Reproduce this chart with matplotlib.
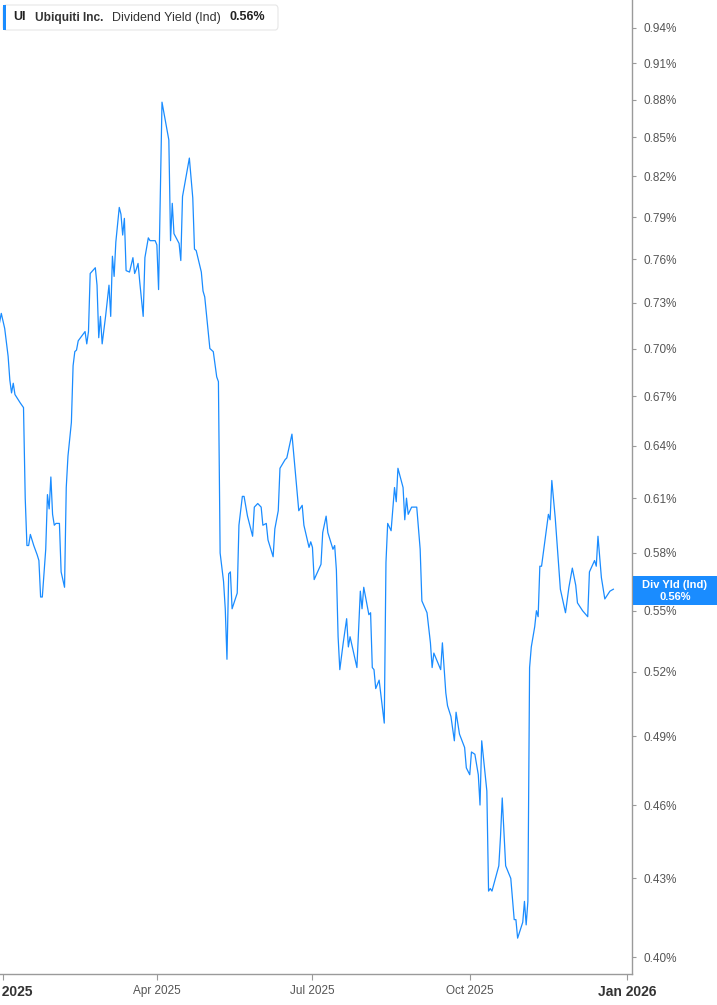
"""Dividend yield chart for Ubiquiti (UI), 2025."""

import matplotlib

matplotlib.use("Agg")
import matplotlib.pyplot as plt
import matplotlib.dates as mdates
import pandas as pd
from matplotlib.patches import FancyBboxPatch, Rectangle
from matplotlib.ticker import FixedLocator, NullLocator

plt.rcParams["font.family"] = ["Liberation Sans", "DejaVu Sans"]

# days after 2025-01-01 and dividend yield (%)
day_offsets = [
    -2, -1, 1, 3, 4, 5, 6, 7, 10, 12, 13, 14, 15, 16, 18, 20, 21, 22, 23, 25,
    26, 27, 28, 29, 30, 31, 33, 34, 35, 36, 37, 38, 40, 41, 42, 43, 44, 48, 49, 50,
    51, 54, 55, 56, 57, 58, 60, 62, 63, 64, 65, 66, 68, 69, 70, 71, 72, 74, 76, 77,
    78, 79, 80, 82, 83, 85, 86, 89, 90, 91, 93, 97, 98, 99, 100, 103, 104, 105, 109, 111,
    112, 113, 116, 117, 118, 121, 123, 125, 126, 127, 129, 130, 131, 132, 133, 134, 137, 138, 140, 141,
    143, 146, 147, 149, 151, 152, 154, 155, 158, 159, 161, 162, 165, 166, 169, 173, 175, 176, 179, 180,
    181, 182, 186, 187, 189, 190, 193, 194, 195, 196, 197, 199, 201, 202, 203, 207, 209, 210, 211, 214,
    215, 216, 217, 218, 220, 223, 224, 225, 227, 229, 230, 231, 234, 235, 236, 237, 239, 242, 244, 245,
    248, 250, 251, 252, 256, 257, 259, 260, 262, 264, 265, 267, 270, 271, 273, 274, 276, 278, 279, 280,
    283, 284, 285, 286, 290, 291, 292, 294, 297, 299, 300, 301, 304, 305, 306, 307, 308, 309, 311, 312,
    313, 314, 315, 317, 319, 320, 321, 323, 326, 329, 331, 333, 335, 336, 339, 340, 342, 343, 346, 347,
    348, 350, 352, 355, 357,
]
yield_pct = [
    0.717, 0.723, 0.713, 0.695, 0.680, 0.672, 0.678, 0.671, 0.666, 0.663,
    0.610, 0.584, 0.584, 0.590, 0.584, 0.579, 0.576, 0.557, 0.557, 0.582,
    0.612, 0.604, 0.622, 0.601, 0.595, 0.596, 0.596, 0.570, 0.566, 0.562,
    0.616, 0.634, 0.654, 0.689, 0.698, 0.699, 0.705, 0.711, 0.703, 0.711,
    0.750, 0.754, 0.742, 0.707, 0.721, 0.703, 0.721, 0.742, 0.721, 0.762,
    0.748, 0.772, 0.797, 0.792, 0.777, 0.789, 0.752, 0.751, 0.761, 0.750,
    0.753, 0.757, 0.744, 0.721, 0.761, 0.775, 0.773, 0.773, 0.770, 0.739,
    0.878, 0.848, 0.773, 0.800, 0.778, 0.771, 0.759, 0.805, 0.834, 0.804,
    0.767, 0.766, 0.751, 0.738, 0.734, 0.700, 0.698, 0.682, 0.679, 0.580,
    0.565, 0.551, 0.526, 0.569, 0.570, 0.551, 0.559, 0.595, 0.611, 0.611,
    0.600, 0.589, 0.605, 0.607, 0.605, 0.595, 0.596, 0.587, 0.578, 0.593,
    0.603, 0.627, 0.632, 0.633, 0.647, 0.603, 0.606, 0.595, 0.583, 0.586,
    0.583, 0.566, 0.574, 0.591, 0.600, 0.591, 0.582, 0.584, 0.571, 0.537,
    0.521, 0.534, 0.546, 0.532, 0.537, 0.522, 0.560, 0.551, 0.562, 0.548,
    0.549, 0.522, 0.521, 0.512, 0.516, 0.496, 0.575, 0.596, 0.592, 0.616,
    0.608, 0.627, 0.616, 0.598, 0.610, 0.601, 0.605, 0.605, 0.582, 0.555,
    0.549, 0.534, 0.522, 0.529, 0.521, 0.534, 0.510, 0.504, 0.499, 0.488,
    0.501, 0.491, 0.485, 0.476, 0.473, 0.483, 0.482, 0.473, 0.460, 0.488,
    0.466, 0.425, 0.426, 0.425, 0.435, 0.447, 0.463, 0.435, 0.430, 0.414,
    0.414, 0.407, 0.413, 0.421, 0.412, 0.421, 0.522, 0.532, 0.542, 0.550,
    0.547, 0.573, 0.573, 0.587, 0.601, 0.598, 0.620, 0.599, 0.561, 0.549,
    0.562, 0.572, 0.563, 0.554, 0.550, 0.549, 0.547, 0.570, 0.576, 0.573,
    0.589, 0.567, 0.556, 0.560, 0.561,
]

y_ticks = [0.40, 0.43, 0.46, 0.49, 0.52, 0.55, 0.58, 0.61, 0.64, 0.67,
           0.70, 0.73, 0.76, 0.79, 0.82, 0.85, 0.88, 0.91, 0.94]
x_tick_dates = ["2025-01-01", "2025-04-01", "2025-07-01", "2025-10-01", "2026-01-01"]
x_tick_labels = ["Jan 2025", "Apr 2025", "Jul 2025", "Oct 2025", "Jan 2026"]

ticker = "UI"
company = "Ubiquiti Inc."
metric = "Dividend Yield (Ind)"
short_metric = "Div Yld (Ind)"
last_label = "0.56%"

LINE = "#1a8cff"
GREY = "#9a9a9a"

base = pd.Timestamp("2025-01-01")
dates = base + pd.to_timedelta(day_offsets, unit="D")

fig = plt.figure(figsize=(7.17, 10.05), dpi=100)
ax = fig.add_axes([0.0, 31 / 1005, 632 / 717, 974 / 1005])

ax.plot(dates, yield_pct, color=LINE, lw=0.9)

ax.set_yscale("log")
ax.set_ylim(0.3938, 0.9645)
x0 = mdates.date2num(base)
ax.set_xlim(x0 - 1.75, x0 + 367.9)

ax.yaxis.tick_right()
ax.yaxis.set_major_locator(FixedLocator(y_ticks))
ax.yaxis.set_minor_locator(NullLocator())
ax.set_yticklabels([f"{v:.2f}%" for v in y_ticks])
ax.tick_params(axis="y", which="both", length=3, width=0.8, color=GREY,
               labelsize=8.5, labelcolor="#555555", pad=5)

xt = [mdates.date2num(pd.Timestamp(d)) for d in x_tick_dates]
ax.set_xticks(xt)
ax.set_xticklabels(x_tick_labels)
ax.tick_params(axis="x", length=4, width=0.8, color=GREY, labelsize=8.5,
               labelcolor="#555555", pad=4)
for lbl in ax.get_xticklabels():
    if lbl.get_text().startswith("Jan"):
        lbl.set_fontweight("bold")
        lbl.set_color("#333333")
        lbl.set_fontsize(10)

for side in ("top", "left"):
    ax.spines[side].set_visible(False)
for side in ("right", "bottom"):
    ax.spines[side].set_color(GREY)
    ax.spines[side].set_linewidth(1.0)

# header box with series name
W, H = 717.0, 1005.0
fig.patches.append(FancyBboxPatch((3 / W, 1 - 30 / H), 275 / W, 25 / H,
                                  boxstyle="round,pad=0,rounding_size=0.004",
                                  transform=fig.transFigure, fc="white",
                                  ec="#e6e6e6", lw=0.8, zorder=5))
fig.patches.append(Rectangle((3 / W, 1 - 30 / H), 3 / W, 25 / H,
                             transform=fig.transFigure, fc=LINE, ec="none", zorder=6))
ty = 1 - 17.5 / H
fig.text(13 / W, ty, ticker, fontsize=9, fontweight="bold", color="#222222",
         va="center", zorder=7)
fig.text(35 / W, ty, company, fontsize=8.6, fontweight="bold", color="#333333",
         va="center", zorder=7)
fig.text(112 / W, ty, metric, fontsize=9, color="#333333", va="center", zorder=7)
fig.text(229 / W, ty, last_label, fontsize=9, fontweight="bold", color="#222222",
         va="center", zorder=7)

# last value tag on the right axis
fig.patches.append(Rectangle((633 / W, 1 - 605 / H), 84 / W, 29 / H,
                             transform=fig.transFigure, fc=LINE, ec="none", zorder=6))
fig.text(675 / W, 1 - 585 / H, short_metric, fontsize=8, fontweight="bold",
         color="white", ha="center", va="center", zorder=7)
fig.text(675 / W, 1 - 596.5 / H, last_label, fontsize=8, fontweight="bold",
         color="white", ha="center", va="center", zorder=7)

fig.savefig("out.png", dpi=100)
